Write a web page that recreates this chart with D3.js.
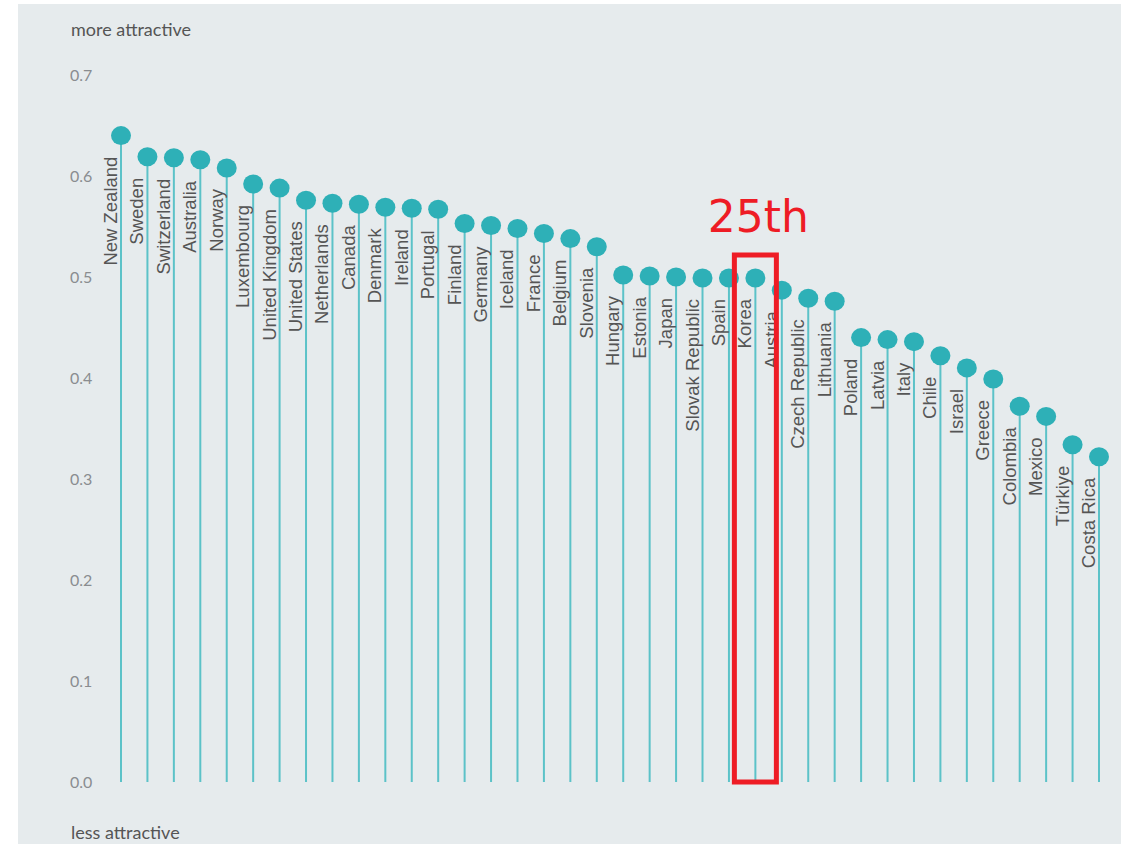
<!DOCTYPE html>
<html>
<head>
<meta charset="utf-8">
<script src="https://cdn.jsdelivr.net/npm/d3@7"></script>
<style>
  body { margin: 0; background: #fff; }
  svg { display: block; }
</style>
</head>
<body>
<div id="chart"></div>
<script>
// countries in rank order and their scores
const countries = ["New Zealand", "Sweden", "Switzerland", "Australia", "Norway", "Luxembourg",
  "United Kingdom", "United States", "Netherlands", "Canada", "Denmark", "Ireland", "Portugal",
  "Finland", "Germany", "Iceland", "France", "Belgium", "Slovenia", "Hungary", "Estonia", "Japan",
  "Slovak Republic", "Spain", "Korea", "Austria", "Czech Republic", "Lithuania", "Poland", "Latvia",
  "Italy", "Chile", "Israel", "Greece", "Colombia", "Mexico", "Türkiye", "Costa Rica"];
const scores = [0.640, 0.619, 0.618, 0.616, 0.608, 0.592, 0.588, 0.576, 0.573, 0.572, 0.569, 0.568,
  0.567, 0.553, 0.551, 0.548, 0.543, 0.538, 0.530, 0.502, 0.501, 0.500, 0.499, 0.499, 0.499, 0.487,
  0.479, 0.476, 0.440, 0.438, 0.436, 0.422, 0.410, 0.399, 0.372, 0.362, 0.334, 0.322];
const yTicks = [0, 0.1, 0.2, 0.3, 0.4, 0.5, 0.6, 0.7];
const highlight = "Korea";
const highlightText = "25th";

const W = 1128, H = 844;

const svg = d3.select("#chart").append("svg")
  .attr("width", W)
  .attr("height", H);

// grey panel
svg.append("rect")
  .attr("x", 18).attr("y", 4)
  .attr("width", 1103).attr("height", H)
  .attr("fill", "#e6ebed");

const x = d3.scalePoint()
  .domain(countries)
  .range([121, 1099]);

const y = d3.scaleLinear()
  .domain([0, 0.7])
  .range([782, 75]);

// y tick labels
svg.append("g")
  .selectAll("text")
  .data(yTicks)
  .join("text")
  .attr("x", 70)
  .attr("y", d => y(d) + 6)
  .text(d => d.toFixed(1))
  .style("font-family", "Lato")
  .style("font-size", "16px")
  .style("fill", "#8a8d90");

svg.append("text")
  .attr("x", 71).attr("y", 36)
  .text("more attractive")
  .style("font-family", "Lato")
  .style("font-size", "18px")
  .style("fill", "#555");

svg.append("text")
  .attr("x", 71).attr("y", 839)
  .text("less attractive")
  .style("font-family", "Lato")
  .style("font-size", "18px")
  .style("fill", "#555");

const data = countries.map((c, i) => ({ country: c, value: scores[i] }));

// stems
svg.append("g")
  .selectAll("line")
  .data(data)
  .join("line")
  .attr("x1", d => x(d.country))
  .attr("x2", d => x(d.country))
  .attr("y1", d => y(d.value))
  .attr("y2", y(0))
  .attr("stroke", "#5cc2c8")
  .attr("stroke-width", 2);

// dots
svg.append("g")
  .selectAll("ellipse")
  .data(data)
  .join("ellipse")
  .attr("cx", d => x(d.country))
  .attr("cy", d => y(d.value))
  .attr("rx", 10)
  .attr("ry", 9.5)
  .attr("fill", "#2eb0b7");

// rotated country labels
svg.append("g")
  .selectAll("text")
  .data(data)
  .join("text")
  .attr("transform", d => `translate(${x(d.country) - 4},${y(d.value) + 21}) rotate(-90)`)
  .attr("text-anchor", "end")
  .text(d => d.country)
  .style("font-family", "Liberation Sans, Arial, sans-serif")
  .style("font-size", "18.5px")
  .style("fill", "#555");

// red annotation
const hx = x(highlight);
svg.append("rect")
  .attr("x", hx - 21)
  .attr("y", 255)
  .attr("width", 42)
  .attr("height", y(0) - 255)
  .attr("fill", "none")
  .attr("stroke", "#ee1c25")
  .attr("stroke-width", 5);

svg.append("text")
  .attr("x", hx + 3)
  .attr("y", 232)
  .attr("text-anchor", "middle")
  .text(highlightText)
  .style("font-family", "DejaVu Sans")
  .style("font-size", "44px")
  .style("fill", "#ee1c25");
</script>
</body>
</html>
